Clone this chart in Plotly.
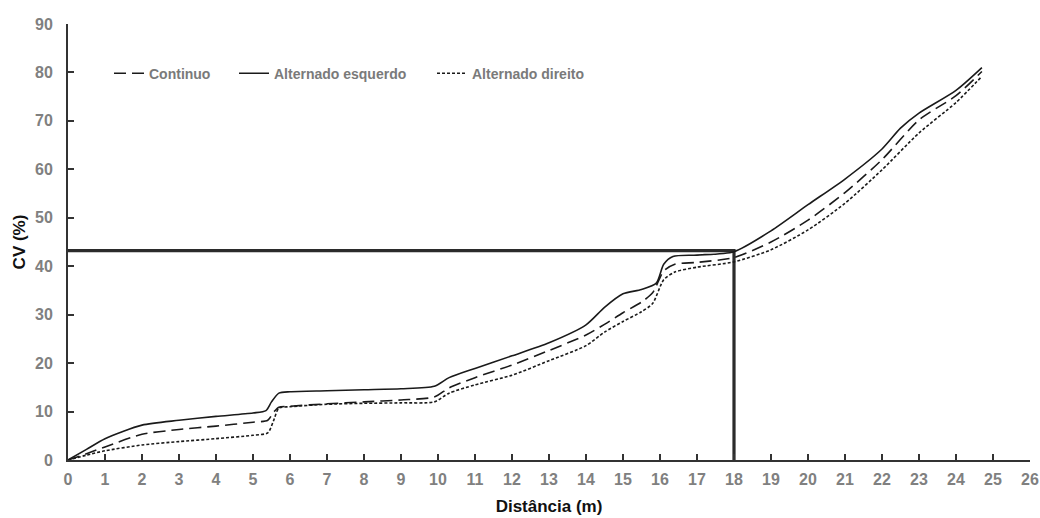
import plotly.graph_objects as go

# Distance (m) and CV (%) values
x_cont = [0, 0.5, 1, 2, 3, 4, 5, 5.4, 5.55, 5.7, 6, 7, 8, 9, 9.9, 10.3, 11, 12, 13, 14, 14.5, 15, 15.5, 15.8, 16.1, 16.4, 17, 18, 19, 20, 21, 22, 23, 24, 24.7]
y_cont = [0, 1.3, 2.7, 5.3, 6.3, 7.0, 7.8, 8.2, 9.8, 10.9, 11.1, 11.6, 12.0, 12.4, 13.0, 14.9, 17.0, 19.6, 22.6, 25.8, 28.0, 30.4, 32.6, 34.5, 39.0, 40.4, 40.8, 41.8, 45.0, 49.5, 55.2, 62.0, 70.2, 75.2, 80.2]

x_esq = [0, 0.5, 1, 2, 3, 4, 5, 5.35, 5.5, 5.7, 6, 7, 8, 9, 9.9, 10.3, 11, 12, 13, 14, 14.5, 15, 15.5, 15.9, 16.1, 16.35, 17, 18, 19, 20, 21, 22, 22.5, 23, 24, 24.7]
y_esq = [0, 2.2, 4.4, 7.2, 8.2, 9.0, 9.7, 10.2, 12.0, 13.8, 14.1, 14.3, 14.5, 14.7, 15.2, 17.0, 18.9, 21.5, 24.2, 27.9, 31.5, 34.3, 35.2, 36.5, 40.4, 42.0, 42.3, 43.0, 47.3, 52.7, 58.0, 64.2, 68.5, 71.6, 76.3, 81.0]

x_dir = [0, 0.5, 1, 2, 3, 4, 5, 5.4, 5.55, 5.7, 6, 7, 8, 9, 9.9, 10.3, 11, 12, 13, 14, 14.5, 15, 15.5, 15.8, 16.1, 16.4, 17, 18, 19, 20, 21, 22, 23, 24, 24.7]
y_dir = [0, 1.0, 1.9, 3.1, 3.8, 4.4, 5.1, 5.6, 8.0, 10.7, 11.0, 11.5, 11.7, 11.8, 12.0, 13.8, 15.5, 17.5, 20.5, 23.6, 26.4, 28.6, 30.6, 32.3, 37.2, 38.8, 39.8, 40.9, 43.4, 47.5, 53.0, 59.9, 67.5, 73.8, 79.2]

# Reference lines (x = 18 m, CV = 43.2 %)
ref_x = [0, 18, 18]
ref_y = [43.2, 43.2, 0]

x_ticks = list(range(0, 27))
y_ticks = list(range(0, 91, 10))

FONT = "Liberation Sans, Arial"

fig = go.Figure()
fig.add_trace(go.Scatter(x=ref_x, y=ref_y, mode="lines", showlegend=False,
                         line=dict(color="#2b2b2b", width=3.2), hoverinfo="skip"))
fig.add_trace(go.Scatter(x=x_cont, y=y_cont, mode="lines", name="<b>Continuo</b>", legend="legend",
                         line=dict(color="#1a1a1a", width=1.6, dash="12px,6px", shape="spline", smoothing=0.7)))
fig.add_trace(go.Scatter(x=x_esq, y=y_esq, mode="lines", name="<b>Alternado esquerdo</b>", legend="legend2",
                         line=dict(color="#1a1a1a", width=1.6, shape="spline", smoothing=0.7)))
fig.add_trace(go.Scatter(x=x_dir, y=y_dir, mode="lines", name="<b>Alternado direito</b>", legend="legend3",
                         line=dict(color="#1a1a1a", width=1.6, dash="3px,2px", shape="spline", smoothing=0.7)))

tick_font = dict(family=FONT, size=16, color="#808080")
title_font = dict(family=FONT, size=17, color="#111111")
leg_font = dict(family=FONT, size=14, color="#7a7a7a")


def leg(xp):
    return dict(orientation="h", x=xp, y=0.886, xanchor="left", yanchor="middle",
                font=leg_font, bgcolor="rgba(0,0,0,0)", itemwidth=30)


fig.update_layout(
    width=1040, height=518,
    margin=dict(l=68, r=10, t=24, b=58),
    plot_bgcolor="white", paper_bgcolor="white",
    font=dict(family=FONT),
    legend=leg((109 - 68) / 962),
    legend2=leg((234 - 68) / 962),
    legend3=leg((432 - 68) / 962),
    xaxis=dict(range=[0, 26], tickvals=x_ticks, ticktext=[f"<b>{v}</b>" for v in x_ticks],
               showgrid=False, zeroline=False, showline=True, linecolor="#333333", linewidth=2,
               ticks="inside", ticklen=6, tickcolor="#333333", tickwidth=1.5,
               tickfont=tick_font, automargin=False, ticklabelstandoff=4,
               title=dict(text="<b>Distância (m)</b>", font=title_font, standoff=13)),
    yaxis=dict(range=[0, 90], tickvals=y_ticks, ticktext=[f"<b>{v}</b>" for v in y_ticks],
               showgrid=False, zeroline=False, showline=True, linecolor="#333333", linewidth=2,
               ticks="inside", ticklen=6, tickcolor="#333333", tickwidth=1.5,
               tickfont=tick_font, automargin=False, ticklabelstandoff=10,
               title=dict(text="<b>CV (%)</b>", font=title_font, standoff=5)),
)

fig.write_html("out.html", config={"displayModeBar": False},
               post_script="document.body.style.margin='0';")
